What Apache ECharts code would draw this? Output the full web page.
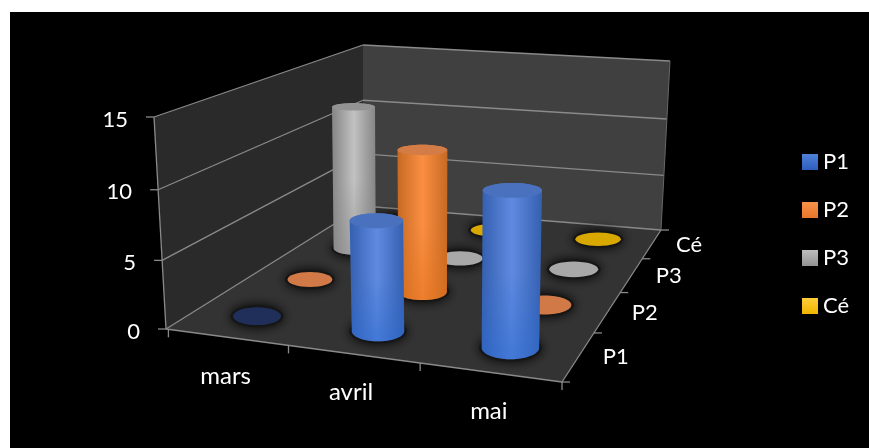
<!DOCTYPE html>
<html>
<head>
<meta charset="utf-8">
<style>html,body{margin:0;padding:0;background:#fff}#chart{width:869px;height:448px}</style>
<script src="https://cdn.jsdelivr.net/npm/echarts@6/dist/echarts.min.js"></script>
</head>
<body>
<div id="chart"></div>
<script>
// Monthly values per group, drawn as cylinders on a perspective floor.
const months = ['mars', 'avril', 'mai'];
const groups = ['P1', 'P2', 'P3', 'Cé'];
const valueTicks = [0, 5, 10, 15];
const P1 = [0, 8, 11];
const P2 = [0, 11, 0];
const P3 = [12, 0, 0];
const Ce = [0, 0, 0];
const groupValues = [P1, P2, P3, Ce];

const FONT = 'Lato, "Open Sans", sans-serif';
const VALUE_MAX = 15;

// Corners of the floor and ceiling planes of the box: front-left, front-right, back-right, back-left.
const floorQuad = [[166, 329], [562, 382], [661, 230], [363, 206]];
const ceilQuad = [[154, 117], [567, 152], [670, 61], [363, 45]];

// Projective map of the unit square onto a quadrilateral.
function homography(q) {
  const [[x0, y0], [x1, y1], [x2, y2], [x3, y3]] = q;
  const dx1 = x1 - x2, dx2 = x3 - x2, sx = x0 - x1 + x2 - x3;
  const dy1 = y1 - y2, dy2 = y3 - y2, sy = y0 - y1 + y2 - y3;
  const den = dx1 * dy2 - dx2 * dy1;
  const g = (sx * dy2 - dx2 * sy) / den;
  const h = (dx1 * sy - sx * dy1) / den;
  const a = x1 - x0 + g * x1, b = x3 - x0 + h * x3;
  const d = y1 - y0 + g * y1, e = y3 - y0 + h * y3;
  return (u, v) => {
    const w = g * u + h * v + 1;
    return [(a * u + b * v + x0) / w, (d * u + e * v + y0) / w];
  };
}
const floorMap = homography(floorQuad);
const ceilMap = homography(ceilQuad);

// u: along months, v: along groups (0 front), t: height fraction with vertical foreshortening.
function project(u, v, t) {
  const f = floorMap(u, v), c = ceilMap(u, v);
  const k = t / (1 + 0.045 * (1 - t));
  return [f[0] + (c[0] - f[0]) * k, f[1] + (c[1] - f[1]) * k];
}

// Reads the month and value scales of the hidden cartesian axes.
function scaleOf(api, params, monthIndex, value) {
  const cs = params.coordSys;
  const p = api.coord([monthIndex, value]);
  return { u: (p[0] - cs.x) / cs.width, t: 1 - (p[1] - cs.y) / cs.height };
}

// Ellipse radii of a cylinder cross-section at a given position.
function radii(u, v, t) {
  const a = project(u - 0.05, v, t), b = project(u + 0.05, v, t);
  const rx = (b[0] - a[0]) * 10 * 0.069;
  const c = project(u, v, t);
  return { c, rx, ry: rx * (0.17 + (c[1] - 109) * 0.00097) };
}

const looks = [
  { edge: '#3560b0', mid: '#5f8ae0', low: '#2b69cf', top: '#4a71bd', disc: '#1f2f59', sw: ['#4f81d9', '#2d5ebd'] },
  { edge: '#c66a24', mid: '#fb8f42', low: '#e0701a', top: '#d47c46', disc: '#d17a48', sw: ['#f8924a', '#e8762b'] },
  { edge: '#858585', mid: '#c2c2c2', low: '#8a8a8a', top: '#939393', disc: '#a8a8a8', sw: ['#bdbdbd', '#929292'] },
  { edge: '#b58a00', mid: '#ffc000', low: '#b58a00', top: '#d8a800', disc: '#d8a800', sw: ['#ffce3a', '#f0b400'] }
];

function ellipsePoints(e, from, to, n) {
  const pts = [];
  for (let i = 0; i <= n; i++) {
    const a = from + (to - from) * i / n;
    pts.push([e.c[0] + e.rx * Math.cos(a), e.c[1] + e.ry * Math.sin(a)]);
  }
  return pts;
}

function ellipseEl(e, style) {
  return { type: 'ellipse', shape: { cx: e.c[0], cy: e.c[1], rx: e.rx, ry: e.ry }, style };
}

function cylinderItem(groupIndex) {
  const look = looks[groupIndex];
  const v = (groupIndex + 0.5) / groups.length;
  return (params, api) => {
    const s = scaleOf(api, params, api.value(0), api.value(1));
    const u = s.u + 0.006;
    const base = radii(u, v, 0);
    const halo = { c: base.c, rx: base.rx + 2.5, ry: base.ry + 2 };
    const children = [ellipseEl(halo, { fill: '#161616', shadowBlur: 12, shadowColor: '#000' })];
    if (s.t <= 0) {
      children.push(ellipseEl(base, { fill: look.disc }));
    } else {
      const top = radii(u, v, s.t);
      const outline = ellipsePoints(base, 0, Math.PI, 24).concat(ellipsePoints(top, Math.PI, 2 * Math.PI, 24));
      children.push({
        type: 'polygon',
        shape: { points: outline },
        style: {
          fill: { type: 'linear', x: 0, y: 0, x2: 1, y2: 0, colorStops: [
            { offset: 0, color: look.edge }, { offset: 0.5, color: look.mid }, { offset: 1, color: look.edge }
          ] }
        }
      });
      children.push({
        type: 'polygon',
        shape: { points: outline },
        style: {
          fill: { type: 'linear', x: 0, y: 0, x2: 0, y2: 1, colorStops: [
            { offset: 0, color: look.low + '00' }, { offset: 0.5, color: look.low + '00' }, { offset: 1, color: look.low + '88' }
          ] }
        }
      });
      children.push(ellipseEl(top, { fill: look.top }));
    }
    return { type: 'group', children };
  };
}

// Walls, floor, grid lines, ticks and axis labels of the box.
function boxItem(params, api) {
  const quad = (a, b, c, d, fill) => ({ type: 'polygon', shape: { points: [a, b, c, d] }, style: { fill } });
  const fl = project(0, 0, 0), fr = project(1, 0, 0), br = project(1, 1, 0), bl = project(0, 1, 0);
  const flT = project(0, 0, 1), brT = project(1, 1, 1), blT = project(0, 1, 1);
  const line = (a, b, stroke, lineWidth) => ({
    type: 'line', shape: { x1: a[0], y1: a[1], x2: b[0], y2: b[1] }, style: { stroke: stroke || '#8a8a8a', lineWidth: lineWidth || 1.3 }
  });
  const text = (x, y, str, align, size) => ({
    type: 'text', x, y, style: { text: str, fill: '#fff', font: (size || 22) + 'px ' + FONT, align: align || 'center', verticalAlign: 'middle' }
  });
  const out = [
    quad(fl, bl, blT, flT, '#2a2a2a'),
    quad(bl, br, brT, blT, '#404040'),
    quad(fl, fr, br, bl, '#333333')
  ];
  valueTicks.forEach((tick) => {
    const t = scaleOf(api, params, 0, tick).t;
    const a = project(0, 0, t), b = project(0, 1, t), c = project(1, 1, t);
    out.push(line(a, b), line(b, c));
    out.push(line([a[0] - 8, a[1]], a));
    out.push(text(a[0] - 26, a[1] + 2.5, String(tick), 'right'));
  });
  out.push(line(fl, flT), line(fl, fr), line(fr, br), line(br, brT, '#666', 1));
  months.forEach((m, i) => {
    const mid = scaleOf(api, params, i, 0).u;
    const edge = i / months.length;
    const p = project(edge + 0.007, 0, 0);
    out.push(line(p, [p[0], p[1] + 8]));
    const c = project(mid, 0, 0);
    out.push(text(c[0] + 1, c[1] + 39, m, 'center', 24));
  });
  out.push(line(fr, [fr[0], fr[1] + 8]));
  groups.forEach((g, k) => {
    const p = project(1, k / groups.length, 0);
    out.push(line(p, [p[0] + 8, p[1]]));
    const c = project(1, (k + 0.5) / groups.length, 0);
    out.push(text(c[0] + 37, c[1] + 1, g));
  });
  const last = project(1, 1, 0);
  out.push(line(last, [last[0] + 8, last[1]]));
  return { type: 'group', children: out };
}

const series = [{
  type: 'custom', name: 'box', z: 1, silent: true, clip: false,
  data: [[0, 0]], encode: { x: 0, y: 1 }, renderItem: boxItem
}];
groups.forEach((g, k) => {
  series.push({
    type: 'custom', name: g, z: 10 - k, clip: false, silent: true,
    itemStyle: { color: { type: 'linear', x: 0, y: 0, x2: 0, y2: 1, colorStops: [
      { offset: 0, color: looks[k].sw[0] }, { offset: 1, color: looks[k].sw[1] }
    ] } },
    data: months.map((m, i) => [i, groupValues[k][i]]),
    encode: { x: 0, y: 1 },
    renderItem: cylinderItem(k)
  });
});

echarts.init(document.getElementById('chart'), null, { renderer: 'canvas' }).setOption({
  animation: false,
  backgroundColor: '#fff',
  graphic: [{ type: 'rect', left: 10, top: 12, z: -1, shape: { width: 859, height: 436 }, style: { fill: '#000' } }],
  grid: { left: 0, right: 0, top: 0, bottom: 0 },
  xAxis: { type: 'category', data: months, show: false },
  yAxis: { type: 'value', min: 0, max: VALUE_MAX, interval: 5, show: false },
  legend: {
    data: groups, orient: 'vertical', left: 802, top: 151, itemWidth: 16, itemHeight: 16, itemGap: 26, padding: 0,
    selectedMode: false, icon: 'rect',
    textStyle: { color: '#fff', fontFamily: FONT, fontSize: 22, lineHeight: 20 }
  },
  series
});
</script>
</body>
</html>
